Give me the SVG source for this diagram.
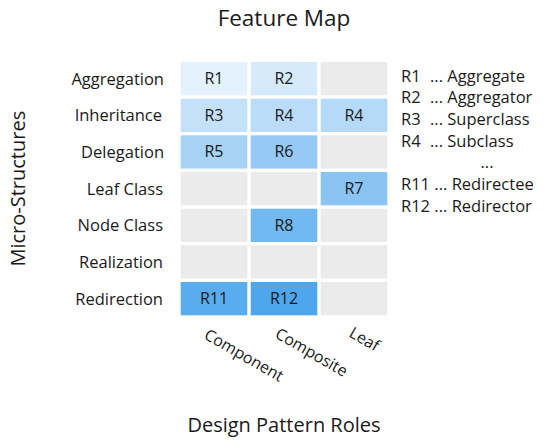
<svg xmlns="http://www.w3.org/2000/svg" width="550" height="445" viewBox="0 0 550 445">
<style>
text { font-family: "Open Sans", "Noto Sans", sans-serif; fill: #1a1a1a; }
.cell { stroke: none; }
.g { fill: #ebebeb; }
.ct { font-size: 16px; text-anchor: middle; }
.rl { font-size: 16.5px; text-anchor: end; }
.lg { font-size: 16.5px; }
.cl { font-size: 16px; }
.title { font-size: 22.5px; text-anchor: middle; }
.axis { font-size: 20px; text-anchor: middle; }
</style>
<rect width="550" height="445" fill="#ffffff"/>
<text class="title" x="284" y="26">Feature Map</text>

<g id="row-labels">
<text class="rl" x="164" y="84.5">Aggregation</text>
<text class="rl" x="162" y="121.2">Inheritance</text>
<text class="rl" x="164" y="157.8">Delegation</text>
<text class="rl" x="163" y="194.5">Leaf Class</text>
<text class="rl" x="163" y="231.2">Node Class</text>
<text class="rl" x="163" y="267.8">Realization</text>
<text class="rl" x="163" y="304.5">Redirection</text>
</g>

<text class="axis" transform="translate(25,188.7) rotate(-90)" x="0" y="0">Micro-Structures</text>

<g id="cells">
<g id="cell-aggregation-component"><rect class="cell" x="180.7" y="62" width="66.6" height="33.3" fill="#e3f2fd"/><text class="ct" x="214" y="84">R1</text></g>
<g id="cell-aggregation-composite"><rect class="cell" x="250.7" y="62" width="66.6" height="33.3" fill="#d5eafb"/><text class="ct" x="284" y="84">R2</text></g>
<g id="cell-aggregation-leaf"><rect class="cell g" x="320.7" y="62" width="66.6" height="33.3"/></g>

<g id="cell-inheritance-component"><rect class="cell" x="180.7" y="98.7" width="66.6" height="33.3" fill="#c3e1f9"/><text class="ct" x="214" y="120.7">R3</text></g>
<g id="cell-inheritance-composite"><rect class="cell" x="250.7" y="98.7" width="66.6" height="33.3" fill="#badcf8"/><text class="ct" x="284" y="120.7">R4</text></g>
<g id="cell-inheritance-leaf"><rect class="cell" x="320.7" y="98.7" width="66.6" height="33.3" fill="#b5daf8"/><text class="ct" x="354" y="120.7">R4</text></g>

<g id="cell-delegation-component"><rect class="cell" x="180.7" y="135.3" width="66.6" height="33.3" fill="#a6d3f6"/><text class="ct" x="214" y="157.3">R5</text></g>
<g id="cell-delegation-composite"><rect class="cell" x="250.7" y="135.3" width="66.6" height="33.3" fill="#94caf5"/><text class="ct" x="284" y="157.3">R6</text></g>
<g id="cell-delegation-leaf"><rect class="cell g" x="320.7" y="135.3" width="66.6" height="33.3"/></g>

<g id="cell-leafclass-component"><rect class="cell g" x="180.7" y="172" width="66.6" height="33.3"/></g>
<g id="cell-leafclass-composite"><rect class="cell g" x="250.7" y="172" width="66.6" height="33.3"/></g>
<g id="cell-leafclass-leaf"><rect class="cell" x="320.7" y="172" width="66.6" height="33.3" fill="#89c4f3"/><text class="ct" x="354" y="194">R7</text></g>

<g id="cell-nodeclass-component"><rect class="cell g" x="180.7" y="208.7" width="66.6" height="33.3"/></g>
<g id="cell-nodeclass-composite"><rect class="cell" x="250.7" y="208.7" width="66.6" height="33.3" fill="#72b9f1"/><text class="ct" x="284" y="230.7">R8</text></g>
<g id="cell-nodeclass-leaf"><rect class="cell g" x="320.7" y="208.7" width="66.6" height="33.3"/></g>

<g id="cell-realization-component"><rect class="cell g" x="180.7" y="245.3" width="66.6" height="33.3"/></g>
<g id="cell-realization-composite"><rect class="cell g" x="250.7" y="245.3" width="66.6" height="33.3"/></g>
<g id="cell-realization-leaf"><rect class="cell g" x="320.7" y="245.3" width="66.6" height="33.3"/></g>

<g id="cell-redirection-component"><rect class="cell" x="180.7" y="282" width="66.6" height="33.3" fill="#59adef"/><text class="ct" x="214" y="304">R11</text></g>
<g id="cell-redirection-composite"><rect class="cell" x="250.7" y="282" width="66.6" height="33.3" fill="#4ea6ed"/><text class="ct" x="284" y="304">R12</text></g>
<g id="cell-redirection-leaf"><rect class="cell g" x="320.7" y="282" width="66.6" height="33.3"/></g>
</g>

<g id="column-labels">
<text class="cl" transform="translate(203,338) rotate(30)">Component</text>
<text class="cl" transform="translate(274,337) rotate(30)">Composite</text>
<text class="cl" transform="translate(348,336) rotate(30)">Leaf</text>
</g>

<text class="axis" x="284" y="432">Design Pattern Roles</text>

<g id="legend">
<text class="lg" x="401" y="81.5">R1</text><text class="lg" x="430" y="81.5">... Aggregate</text>
<text class="lg" x="401" y="103.2">R2</text><text class="lg" x="430" y="103.2">... Aggregator</text>
<text class="lg" x="401" y="124.9">R3</text><text class="lg" x="430" y="124.9">... Superclass</text>
<text class="lg" x="401" y="146.6">R4</text><text class="lg" x="430" y="146.6">... Subclass</text>
<text class="lg" x="487" y="167.5" text-anchor="middle" font-size="15px">...</text>
<text class="lg" x="401" y="190">R11 ... Redirectee</text>
<text class="lg" x="401" y="211.7">R12 ... Redirector</text>
</g>

<g id="connectors"/>
</svg>
